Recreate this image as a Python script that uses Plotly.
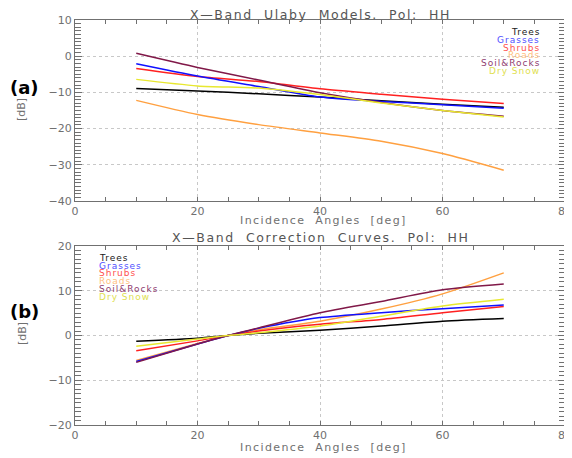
import plotly.graph_objects as go

W, H = 572, 458

# ---------------- data ----------------
names = ["Trees", "Grasses", "Shrubs", "Roads", "Soil&Rocks", "Dry Snow"]
colors = ["#000000", "#1010ff", "#ff2020", "#ffa040", "#801848", "#e8e830"]
legend_colors = ["#202020", "#5050ff", "#ff5050", "#ffc080", "#904070", "#e0e050"]

angles_a = [10, 20, 30, 40, 50, 60, 70]
trees_a = [-8.9, -9.6, -10.4, -11.3, -12.3, -13.3, -14.1]
grasses_a = [-2.1, -5.5, -8.4, -11.3, -12.5, -13.4, -14.4]
shrubs_a = [-3.4, -5.6, -7.0, -9.0, -10.5, -11.9, -13.1]
roads_a = [-12.2, -16.1, -18.9, -21.2, -23.5, -26.9, -31.5]
soil_a = [0.8, -3.1, -6.6, -10.1, -12.8, -15.0, -16.6]
snow_a = [-6.4, -8.2, -8.8, -10.6, -12.9, -15.0, -16.8]

angles_b = [10, 20, 25, 30, 40, 50, 60, 70]
trees_b = [-1.3, -0.6, 0.0, 0.5, 1.2, 2.1, 3.2, 3.8]
grasses_b = [-5.8, -1.9, 0.0, 1.6, 4.0, 5.1, 6.0, 6.8]
shrubs_b = [-3.4, -1.2, 0.0, 1.0, 2.5, 3.6, 5.1, 6.5]
roads_b = [-5.6, -1.8, 0.0, 1.3, 3.2, 5.9, 9.3, 14.0]
soil_b = [-6.0, -1.9, 0.0, 1.7, 5.1, 7.6, 10.2, 11.5]
snow_b = [-2.4, -0.8, 0.0, 0.6, 2.1, 4.3, 6.6, 8.1]

series_a = [trees_a, grasses_a, shrubs_a, roads_a, soil_a, snow_a]
series_b = [trees_b, grasses_b, shrubs_b, roads_b, soil_b, snow_b]

title_a = "X\u2014Band  Ulaby  Models.  Pol:  HH"
title_b = "X\u2014Band  Correction  Curves.  Pol:  HH"
xtitle = "Incidence  Angles  [deg]"
ytitle = "[dB]"

# ---------------- figure ----------------
fig = go.Figure()
draw_order = [3, 0, 2, 1, 4, 5]
for i in draw_order:
    fig.add_trace(go.Scatter(x=angles_a, y=series_a[i], mode="lines",
                             line=dict(color=colors[i], width=1.5, shape="spline", smoothing=0.7),
                             xaxis="x", yaxis="y", showlegend=False))
for i in draw_order:
    fig.add_trace(go.Scatter(x=angles_b, y=series_b[i], mode="lines",
                             line=dict(color=colors[i], width=1.5, shape="spline", smoothing=0.7),
                             xaxis="x2", yaxis="y2", showlegend=False))

FONT = "DejaVu Sans"
GRAY = "#707070"
OFF = 8  # page body margin in the browser

def px_x(p):
    return (p - OFF) / W

def px_y(p):
    return 1 - (p - OFF) / H

xdom = [px_x(75), px_x(565)]
common_x = dict(range=[0, 80], dtick=20, tick0=0, ticks="inside", ticklen=4, tickwidth=1,
                tickcolor=GRAY, showline=True, linecolor=GRAY, linewidth=1, mirror="ticks",
                showgrid=True, gridcolor="#c8c8c8", griddash="dot", gridwidth=1,
                zeroline=False, tickfont=dict(family=FONT, size=11, color=GRAY),
                minor=dict(dtick=5, ticks="inside", ticklen=4, tickcolor=GRAY, showgrid=False),
                automargin=False, domain=xdom, fixedrange=True)
common_y = dict(dtick=10, ticks="inside", ticklen=7, tickwidth=1, tickcolor=GRAY,
                showline=True, linecolor=GRAY, linewidth=1, mirror="ticks",
                showgrid=True, gridcolor="#c8c8c8", griddash="dot", gridwidth=1,
                zeroline=False, tickfont=dict(family=FONT, size=11, color=GRAY),
                minor=dict(dtick=1, ticks="inside", ticklen=6, tickcolor=GRAY, showgrid=False),
                automargin=False, fixedrange=True)

fig.update_layout(
    width=W, height=H,
    margin=dict(l=0, r=0, t=0, b=0, autoexpand=False),
    paper_bgcolor="white", plot_bgcolor="white",
    xaxis=dict(common_x, anchor="y"),
    yaxis=dict(common_y, range=[-40, 10], anchor="x", domain=[px_y(201), px_y(20)]),
    xaxis2=dict(common_x, anchor="y2"),
    yaxis2=dict(common_y, range=[-20, 20], tick0=0, anchor="x2", domain=[px_y(425), px_y(246)]),
    font=dict(family=FONT, color=GRAY),
)

ann = []
def text(x, y, s, size=11, color=GRAY, xa="center", ya="middle", angle=0, bold=False, ls=0):
    if bold:
        s = "<b>" + s + "</b>"
    if ls:
        s = '<span style="letter-spacing:%.1fpx">%s</span>' % (ls, s)
    ann.append(dict(x=x, y=y, xref="paper", yref="paper", text=s, showarrow=False,
                    xanchor=xa, yanchor=ya, textangle=angle,
                    font=dict(family=FONT, size=size, color=color)))

text(px_x(320), px_y(14), title_a, size=12.5, color="#555555", ls=1.6)
text(px_x(320), px_y(237), title_b, size=12.5, color="#555555", ls=1.6)
text(px_x(323), px_y(220), xtitle, size=11, ls=1.4)
text(px_x(323), px_y(447), xtitle, size=11, ls=1.4)
text(px_x(22), px_y(110), ytitle, size=11, angle=-90)
text(px_x(22), px_y(334), ytitle, size=11, angle=-90)
text(px_x(8), px_y(88), "(a)", size=18, color="black", bold=True, xa="left")
text(px_x(8), px_y(311), "(b)", size=18, color="black", bold=True, xa="left")

for k, nm in enumerate(names):
    text(px_x(542), px_y(32 + 7.8 * k), nm, size=9, color=legend_colors[k], xa="right", ls=1)
    text(px_x(97), px_y(258 + 7.7 * k), nm, size=9, color=legend_colors[k], xa="left", ls=1)

fig.update_layout(annotations=ann)
fig.write_html("out.html")
